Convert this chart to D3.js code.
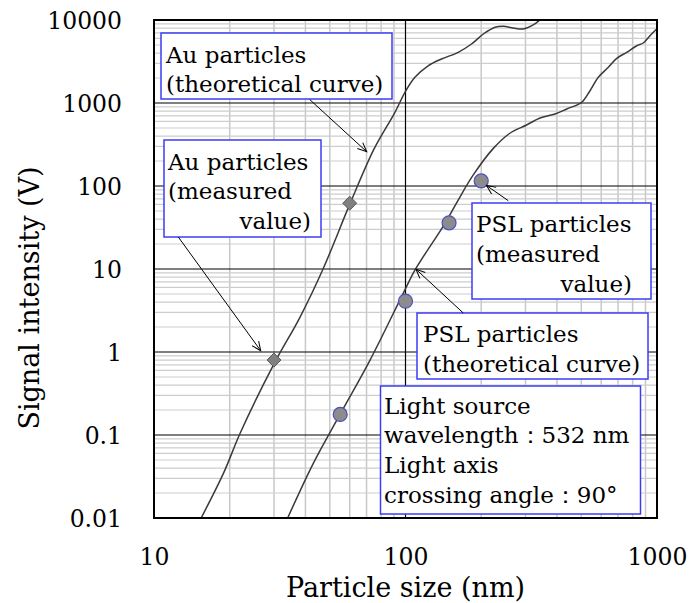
<!DOCTYPE html>
<html>
<head>
<meta charset="utf-8">
<script src="https://cdn.jsdelivr.net/npm/d3@7"></script>
<style>
  body { margin: 0; background: #fff; }
  svg text { font-family: "DejaVu Serif", serif; fill: #000; }
</style>
</head>
<body>
<div id="chart"></div>
<script>
// tick values
var xTicks = [10, 100, 1000];
var yTicks = [0.01, 0.1, 1, 10, 100, 1000, 10000];

// Au particles, theoretical curve
var auCurveSize = [15.4, 19, 22, 30, 38, 47, 60, 75, 90.8, 99.5, 109, 123, 139, 162, 183, 204, 227, 245, 268, 294, 318, 343, 360];
var auCurveSignal = [0.01, 0.036, 0.105, 0.72, 2.6, 10, 60, 280, 773, 1345, 2040, 2810, 3390, 4080, 5140, 6780, 8170, 8400, 8020, 7800, 8540, 10090, 12000];

// PSL particles, theoretical curve
var pslCurveSize = [34, 43, 54.9, 72.3, 97.9, 109, 143.6, 162, 186, 223.5, 260, 303, 342.6, 393, 437.5, 502, 541.6, 584.3, 640.4, 691.6, 757.8, 830.6, 882, 937.6, 997, 1020];
var pslCurveSignal = [0.01, 0.0456, 0.177, 0.80, 5.09, 9.7, 35.5, 67.8, 136, 284, 432, 543, 659, 737, 847, 1020, 1406, 2040, 2692, 3456, 4082, 4900, 5284, 6475, 7800, 8300];

// measured values
var auSize = [30, 60];
var auMeasured = [0.80, 62];
var pslSize = [55, 100, 149, 200];
var pslMeasured = [0.177, 4.1, 36, 115];

var margin = {top: 20, right: 33, bottom: 85, left: 154};
var chartWidth = 690, chartHeight = 603;
var width = chartWidth - margin.left - margin.right,
    height = chartHeight - margin.top - margin.bottom;

var svg = d3.select("#chart").append("svg")
    .attr("width", chartWidth)
    .attr("height", chartHeight);

var defs = svg.append("defs");
defs.append("clipPath").attr("id", "plotClip")
  .append("rect").attr("width", width).attr("height", height);
defs.append("marker")
    .attr("id", "arrow")
    .attr("markerUnits", "userSpaceOnUse")
    .attr("viewBox", "-10 -6 12 12")
    .attr("refX", 0).attr("refY", 0)
    .attr("markerWidth", 12).attr("markerHeight", 12)
    .attr("orient", "auto")
  .append("path")
    .attr("d", "M-9,-4L0,0L-9,4")
    .attr("fill", "none")
    .attr("stroke", "#000")
    .attr("stroke-width", 1);

var g = svg.append("g").attr("transform", "translate(" + margin.left + "," + margin.top + ")");

var x = d3.scaleLog().domain([10, 1000]).range([0, width]);
var y = d3.scaleLog().domain([0.01, 10000]).range([height, 0]);

// minor grid
var xMinor = [], yMinor = [];
[10, 100].forEach(function(d) { for (var k = 2; k <= 9; k++) xMinor.push(d * k); });
[0.01, 0.1, 1, 10, 100, 1000].forEach(function(d) { for (var k = 2; k <= 9; k++) yMinor.push(d * k); });

g.selectAll(".vminor").data(xMinor).enter().append("line")
    .attr("x1", function(d) { return x(d); }).attr("x2", function(d) { return x(d); })
    .attr("y1", 0).attr("y2", height)
    .attr("stroke", "#c8c8c8").attr("stroke-width", 1.5);
g.selectAll(".hminor").data(yMinor).enter().append("line")
    .attr("y1", function(d) { return y(d); }).attr("y2", function(d) { return y(d); })
    .attr("x1", 0).attr("x2", width)
    .attr("stroke", "#cdcdcd").attr("stroke-width", 1.2);

// major grid
g.selectAll(".vmajor").data(xTicks).enter().append("line")
    .attr("x1", function(d) { return x(d); }).attr("x2", function(d) { return x(d); })
    .attr("y1", 0).attr("y2", height)
    .attr("stroke", "#000").attr("stroke-width", 1.2);
g.selectAll(".hmajor").data(yTicks).enter().append("line")
    .attr("y1", function(d) { return y(d); }).attr("y2", function(d) { return y(d); })
    .attr("x1", 0).attr("x2", width)
    .attr("stroke", "#000").attr("stroke-width", 1.2);

// curves
var line = d3.line()
    .x(function(d) { return x(d[0]); })
    .y(function(d) { return y(d[1]); })
    .curve(d3.curveCatmullRom.alpha(0.5));

var curves = g.append("g").attr("clip-path", "url(#plotClip)");
curves.append("path")
    .datum(d3.zip(auCurveSize, auCurveSignal))
    .attr("d", line)
    .attr("fill", "none").attr("stroke", "#3a3a3a").attr("stroke-width", 1.5);
curves.append("path")
    .datum(d3.zip(pslCurveSize, pslCurveSignal))
    .attr("d", line)
    .attr("fill", "none").attr("stroke", "#3a3a3a").attr("stroke-width", 1.5);

// frame
g.append("rect")
    .attr("width", width).attr("height", height)
    .attr("fill", "none").attr("stroke", "#000").attr("stroke-width", 2);

// measured markers
g.selectAll(".au").data(d3.zip(auSize, auMeasured)).enter().append("path")
    .attr("transform", function(d) { return "translate(" + x(d[0]) + "," + y(d[1]) + ")"; })
    .attr("d", "M0,-7L7,0L0,7L-7,0Z")
    .attr("fill", "#808080").attr("stroke", "#5a5a5a").attr("stroke-width", 1);
g.selectAll(".psl").data(d3.zip(pslSize, pslMeasured)).enter().append("circle")
    .attr("cx", function(d) { return x(d[0]); })
    .attr("cy", function(d) { return y(d[1]); })
    .attr("r", 7)
    .attr("fill", "#8c8c8c").attr("stroke", "#4a50c0").attr("stroke-width", 1.2);

// axes (labels only)
var fmt = function(d) { return d >= 1 ? d3.format("d")(d) : String(d); };
var yAxis = g.append("g")
    .call(d3.axisLeft(y).tickValues(yTicks).tickSize(0).tickPadding(32).tickFormat(fmt));
var xAxis = g.append("g").attr("transform", "translate(0," + height + ")")
    .call(d3.axisBottom(x).tickValues(xTicks).tickSize(0).tickPadding(30).tickFormat(fmt));
[xAxis, yAxis].forEach(function(a) {
    a.select(".domain").remove();
    a.selectAll("text").style("font-family", "DejaVu Serif").style("font-size", "23.5px").attr("fill", "#000");
});
yAxis.selectAll("text").attr("dy", "0.38em");

svg.append("text")
    .attr("x", margin.left + width / 2).attr("y", 597)
    .attr("text-anchor", "middle")
    .style("font-size", "27px")
    .text("Particle size (nm)");
svg.append("text")
    .attr("transform", "translate(39,298) rotate(-90)")
    .attr("text-anchor", "middle")
    .style("font-size", "27px")
    .text("Signal intensity (V)");

// annotation boxes
var boxes = [
    {x: 161, y: 33, w: 231, h: 66, lines: [["Au particles", 166, 63], ["(theoretical curve)", 166, 92]]},
    {x: 164, y: 140, w: 157, h: 97, lines: [["Au particles", 168, 170], ["(measured", 168, 199], ["value)", 311, 229, "end"]]},
    {x: 472, y: 203, w: 179, h: 96, lines: [["PSL particles", 476, 232], ["(measured", 476, 262], ["value)", 632, 292, "end"]]},
    {x: 417, y: 313, w: 231, h: 66, lines: [["PSL particles", 423, 342], ["(theoretical curve)", 423, 372]]},
    {x: 380.5, y: 386, w: 260, h: 128, lines: [["Light source", 384, 414], ["wavelength\uFF1A532 nm", 384, 443],
        ["Light axis", 384, 473], ["crossing angle\uFF1A90\u00B0", 384, 503]]}
];
var ann = svg.append("g");
boxes.forEach(function(b) {
    ann.append("rect")
        .attr("x", b.x).attr("y", b.y).attr("width", b.w).attr("height", b.h)
        .attr("fill", "#fff").attr("stroke", "#3c3cf5").attr("stroke-width", 1.5);
    b.lines.forEach(function(l) {
        ann.append("text")
            .attr("x", l[1]).attr("y", l[2])
            .attr("text-anchor", l[3] || "start")
            .style("font-size", "23px")
            .text(l[0]);
    });
});

// arrows
var arrows = [
    [309.7, 99.5, 366.7, 151.7],
    [178.3, 237, 260.7, 350.7],
    [508.3, 200.7, 486.5, 185.5],
    [463.3, 313, 416, 269.3]
];
ann.selectAll(".arrow").data(arrows).enter().append("line")
    .attr("x1", function(d) { return d[0]; }).attr("y1", function(d) { return d[1]; })
    .attr("x2", function(d) { return d[2]; }).attr("y2", function(d) { return d[3]; })
    .attr("stroke", "#000").attr("stroke-width", 1)
    .attr("marker-end", "url(#arrow)");
</script>
</body>
</html>
